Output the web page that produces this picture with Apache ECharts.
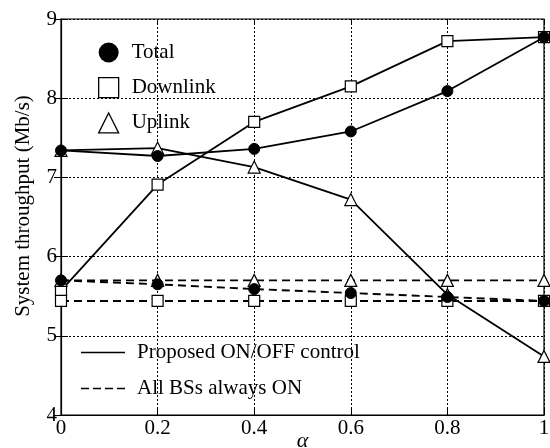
<!DOCTYPE html>
<html><head><meta charset="utf-8">
<script src="https://cdn.jsdelivr.net/npm/echarts@6/dist/echarts.min.js"></script>
<style>html,body{margin:0;padding:0;background:#fff}#c{width:550px;height:448px}</style>
</head><body><div id="c"></div>
<script>
var alphas = [0, 0.2, 0.4, 0.6, 0.8, 1.0];
var totalProposed = [7.34, 7.27, 7.36, 7.58, 8.09, 8.77];
var downProposed = [5.57, 6.91, 7.70, 8.15, 8.72, 8.77];
var upProposed = [7.34, 7.37, 7.13, 6.72, 5.52, 4.74];
var totalAlwaysOn = [5.70, 5.65, 5.59, 5.54, 5.49, 5.44];
var downAlwaysOn = [5.44, 5.44, 5.44, 5.44, 5.44, 5.44];
var upAlwaysOn = [5.70, 5.70, 5.70, 5.70, 5.70, 5.70];
var xTicks = [0, 0.2, 0.4, 0.6, 0.8, 1];
var yTicks = [4, 5, 6, 7, 8, 9];

function pts(vals){ return alphas.map(function(a,i){ return [a, vals[i]]; }); }

var FONT = '"Liberation Serif", "Times New Roman", serif';
var markerCircle = {symbol:'circle', symbolSize:11, itemStyle:{color:'#000', borderColor:'#000', borderWidth:1}};
var markerSquare = {symbol:'rect', symbolSize:11, itemStyle:{color:'#fff', borderColor:'#000', borderWidth:1.2}};
var markerTri = {symbol:'triangle', symbolSize:12, itemStyle:{color:'#fff', borderColor:'#000', borderWidth:1.2}};

function mk(name, vals, marker, dashed, z){
  return {
    name: name, type:'line', data: pts(vals), z: z,
    symbol: marker.symbol, symbolSize: marker.symbolSize,
    itemStyle: marker.itemStyle, showAllSymbol: true,
    lineStyle: {color:'#000', width: dashed ? 1.9 : 1.8, type: dashed ? [8,5] : 'solid'},
    emphasis: {disabled:true}, animation:false
  };
}

var SOLID_ICON = 'path://M0,0H44V1.6H0Z';
var DASH_ICON = 'path://M0,0H8V1.6H0Z M12,0H20V1.6H12Z M24,0H32V1.6H24Z M36,0H44V1.6H36Z';

var chart = echarts.init(document.getElementById('c'));
chart.setOption({
  backgroundColor:'#fff',
  animation:false,
  grid:{left:61, right:6, top:19, bottom:33, show:true, borderColor:'#000', borderWidth:1.2,
        containLabel:false, outerBoundsMode:'none'},
  xAxis:[{
    type:'value', min:0, max:1, interval:0.2,
    name:'α', nameLocation:'middle', nameGap:15, nameMoveOverlap:false,
    nameTextStyle:{fontFamily:FONT, fontSize:22, fontStyle:'italic', color:'#000'},
    axisLine:{show:true, lineStyle:{color:'#000', width:1.2}},
    axisTick:{show:true, inside:true, length:6, lineStyle:{color:'#000'}},
    axisLabel:{fontFamily:FONT, fontSize:21, color:'#000', margin:3,
      formatter:function(v){ var t = xTicks.filter(function(x){return Math.abs(x-v)<1e-9;}); return t.length? String(t[0]) : ''; }},
    splitLine:{show:true, lineStyle:{color:'#000', width:1, type:[2,2]}}
  },{
    type:'value', min:0, max:1, interval:0.2, position:'top',
    axisLine:{show:false}, axisLabel:{show:false}, splitLine:{show:false},
    axisTick:{show:true, inside:true, length:6, lineStyle:{color:'#000'}}
  }],
  yAxis:[{
    type:'value', min:4, max:9, interval:1,
    name:'System throughput (Mb/s)', nameLocation:'middle', nameGap:27, nameMoveOverlap:false,
    nameTextStyle:{fontFamily:FONT, fontSize:21, color:'#000', padding:[0,0,0,22]},
    axisLine:{show:true, lineStyle:{color:'#000', width:1.2}},
    axisTick:{show:true, inside:true, length:7, lineStyle:{color:'#000'}},
    axisLabel:{fontFamily:FONT, fontSize:21, color:'#000', margin:4,
      formatter:function(v){ return yTicks.indexOf(v) >= 0 ? String(v) : ''; }},
    splitLine:{show:true, lineStyle:{color:'#000', width:1, type:[2,2]}}
  },{
    type:'value', min:4, max:9, interval:1, position:'right',
    axisLine:{show:false}, axisLabel:{show:false}, splitLine:{show:false},
    axisTick:{show:true, inside:true, length:7, lineStyle:{color:'#000'}}
  }],
  legend:[{
    orient:'vertical', left:93, top:37, itemWidth:20, itemHeight:20, itemGap:14,
    selectedMode:false,
    textStyle:{fontFamily:FONT, fontSize:21, color:'#000', padding:[0,0,0,8]},
    data:[
      {name:'Total', icon:'circle', itemStyle:{color:'#000', borderColor:'#000', borderWidth:0}},
      {name:'Downlink', icon:'rect', itemStyle:{color:'#fff', borderColor:'#000', borderWidth:1.3}},
      {name:'Uplink', icon:'triangle', itemStyle:{color:'#fff', borderColor:'#000', borderWidth:1.3}}
    ]
  },{
    orient:'vertical', left:76, top:337, itemWidth:44, itemHeight:20, itemGap:15,
    selectedMode:false,
    textStyle:{fontFamily:FONT, fontSize:21, color:'#000', padding:[0,0,0,7]},
    data:[
      {name:'Proposed ON/OFF control', icon:SOLID_ICON, itemStyle:{color:'#000', borderWidth:0}},
      {name:'All BSs always ON', icon:DASH_ICON, itemStyle:{color:'#000', borderWidth:0}}
    ]
  }],
  series:[
    mk('Downlink', downProposed, markerSquare, false, 2),
    mk('Downlink (always ON)', downAlwaysOn, markerSquare, true, 2),
    mk('Uplink', upProposed, markerTri, false, 3),
    mk('Uplink (always ON)', upAlwaysOn, markerTri, true, 3),
    mk('Total', totalProposed, markerCircle, false, 4),
    mk('Total (always ON)', totalAlwaysOn, markerCircle, true, 4),
    {name:'Proposed ON/OFF control', type:'line', data:[], symbol:'none', lineStyle:{color:'#000', width:1.6, type:'solid'}, itemStyle:{color:'#000'}},
    {name:'All BSs always ON', type:'line', data:[], symbol:'none', lineStyle:{color:'#000', width:1.6, type:[8,5]}, itemStyle:{color:'#000'}}
  ]
});
</script>
</body></html>
